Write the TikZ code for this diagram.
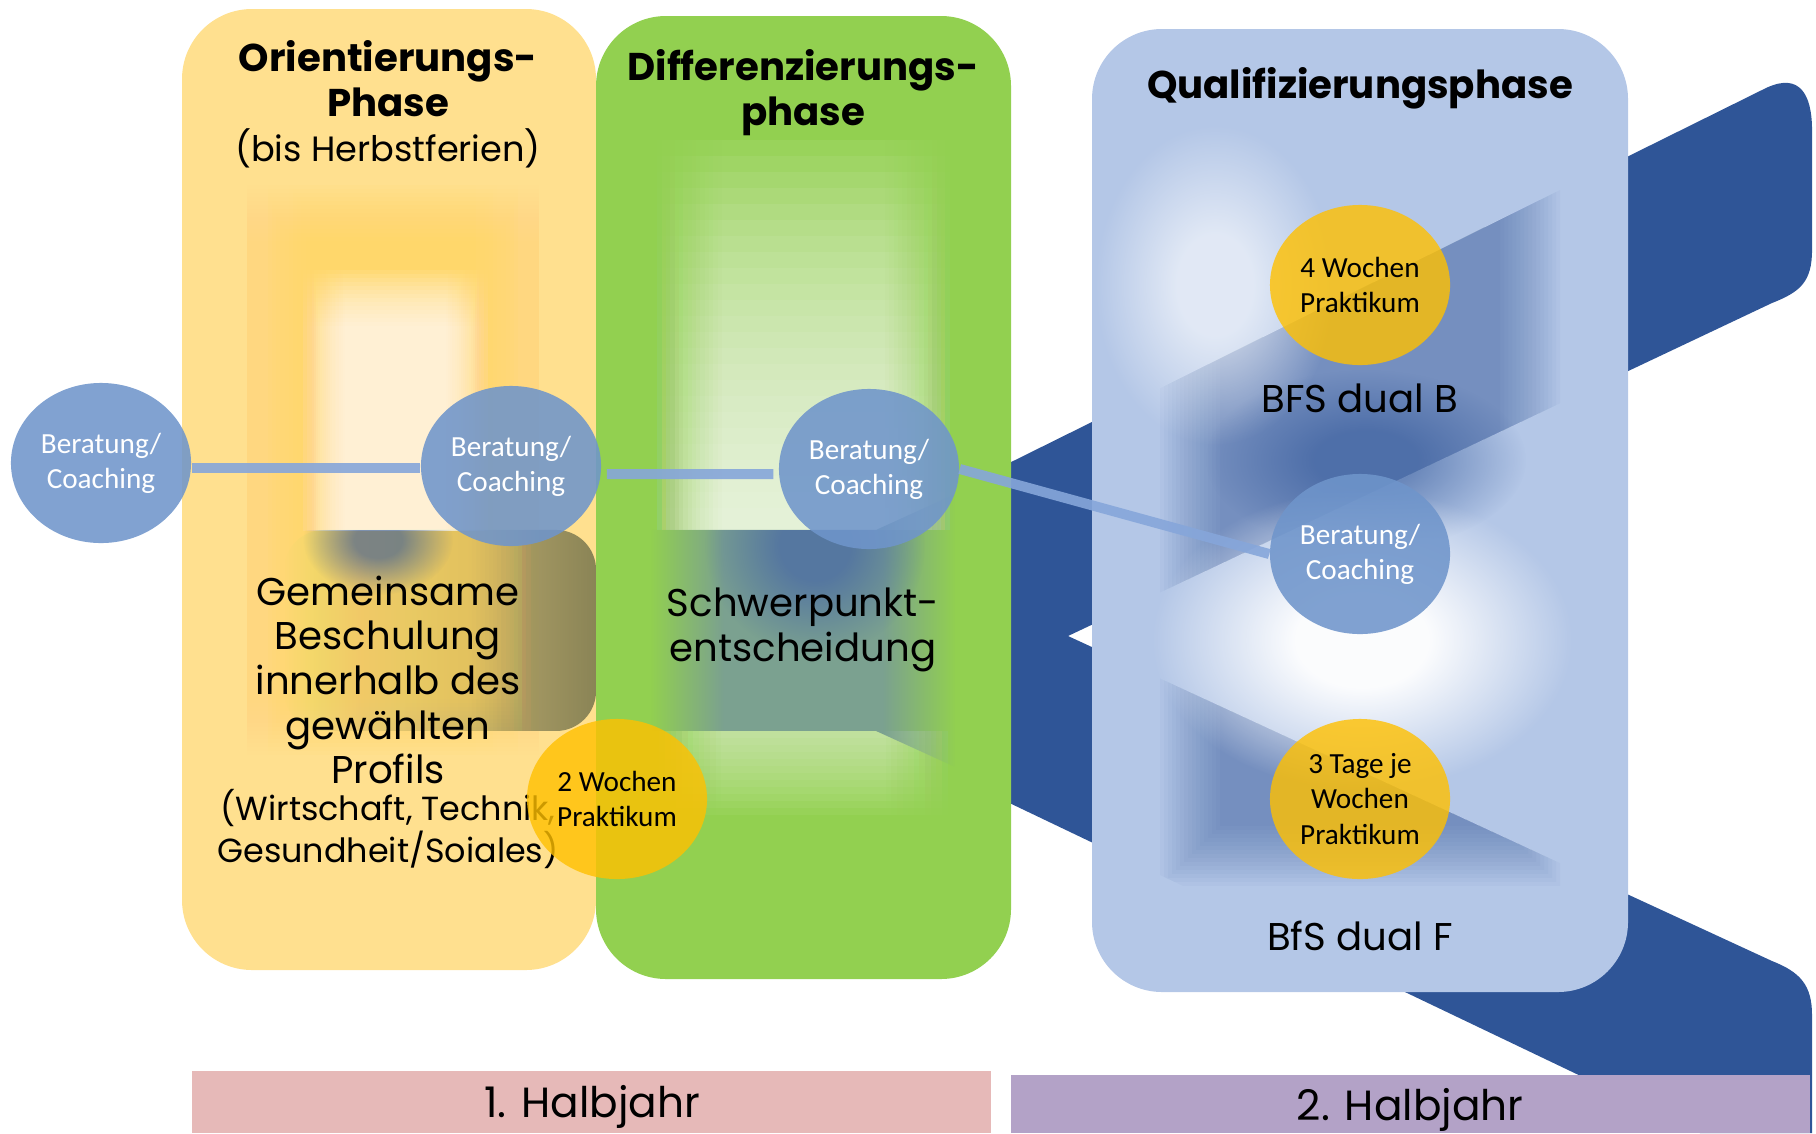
\documentclass[tikz,border=0pt]{standalone}
\usepackage{fontspec}
\setmainfont{Poppins}
\newfontfamily\calfont{Carlito}
\usetikzlibrary{shapes.geometric,fadings}

\definecolor{yelpanel}{HTML}{FFE08F}
\definecolor{yelglow}{HTML}{FFD75E}
\definecolor{grnpanel}{HTML}{92D050}
\definecolor{bluepanel}{HTML}{B4C7E7}
\definecolor{navy}{HTML}{2F5597}
\definecolor{coachblue}{HTML}{6F95CB}
\definecolor{praxyel}{HTML}{FFC000}
\definecolor{olive}{HTML}{8A8456}
\definecolor{bandtop}{HTML}{4F70A3}
\definecolor{bandbot}{HTML}{7BA190}
\definecolor{linkblue}{HTML}{86A6DA}
\definecolor{barpink}{HTML}{E6B9B8}
\definecolor{barlila}{HTML}{B3A2C7}

\tikzfading[name=toright, left color=transparent!100, right color=transparent!0]
\pgfdeclarehorizontalshading{plateaushading}{100bp}{color(0bp)=(black); color(25bp)=(black); color(37bp)=(white); color(63bp)=(white); color(75bp)=(black); color(100bp)=(black)}
\pgfdeclarefading{plateau}{\pgfuseshading{plateaushading}}
\pgfdeclareradialshading{glowshading}{\pgfpoint{0bp}{0bp}}{color(0bp)=(white); color(8bp)=(white); color(25bp)=(black); color(50bp)=(black)}
\pgfdeclarefading{glow}{\pgfuseshading{glowshading}}

\tikzset{phase/.style={rounded corners=0.7cm},
coach/.style={ellipse,fill=coachblue,fill opacity=0.88,text opacity=1,minimum width=1.8cm,minimum height=1.6cm,inner sep=0pt,text=white,align=center,font=\calfont\fontsize{8.3}{10}\selectfont,execute at begin node=\rule{0pt}{8.6pt}},
praxis/.style={coach,fill=praxyel,fill opacity=0.8,text=black},
link/.style={draw=linkblue,opacity=0.9,line width=0.1cm},
head/.style={align=center,font=\bfseries\fontsize{11}{12.8}\selectfont},
hand/.style={align=center,font=\fontsize{11}{12.7}\selectfont},
small/.style={align=center,font=\fontsize{9.5}{10.2}\selectfont},
chevron/.style={insert path={(660,636) -- (1766,88) .. controls (1800,72) and (1812,95) .. (1812,130)
  -- (1812,250) .. controls (1812,282) and (1800,292) .. (1772,303) -- (1068,636)
  -- (1772,961) .. controls (1800,972) and (1812,985) .. (1812,1015) -- (1812,1133) -- (1700,1133) -- cycle}}}

% soft edged box: style, x1, y1, x2, y2
\newcommand\softbox[5]{\foreach \k in {0,...,14}{\fill[#1,path fading=plateau] (#2,{#3+\k*4}) rectangle (#4,{#5-\k*4});}}

\begin{document}
\begin{tikzpicture}[x=0.01cm,y=-0.01cm]
\useasboundingbox (0,0) rectangle (1816,1133);

% the big arrow behind everything
\fill[navy,chevron];

% Orientierungsphase
\fill[yelpanel,phase] (182,9) rectangle (596,970);
\fill[olive,path fading=toright,rounded corners=0.4cm] (284,530) rectangle (596,731);
\softbox{yelglow,opacity=0.065}{245}{185}{540}{755}
\begin{scope}
\clip (182,0) rectangle (596,530);
\softbox{white,opacity=0.085}{300}{270}{490}{620}
\end{scope}
\begin{scope}
\clip (182,530) rectangle (596,731);
\fill[navy,opacity=0.6,path fading=glow] (378,540) ellipse (75 and 55);
\end{scope}

% Differenzierungsphase
\fill[grnpanel,phase] (596,16) rectangle (1011,979);
\foreach \k in {0,...,23}
  \fill[white,opacity=0.065,path fading=plateau] (651,{140+\k*16}) rectangle (955,530);
\foreach \k in {0,...,11}
  \fill[white,opacity=0.05,path fading=plateau] (651,731) rectangle (955,{815-\k*7});
\fill[bandbot,path fading=plateau] (651,530) -- (876,530) -- (955,494) -- (955,767) -- (876,731) -- (651,731) -- cycle;
\begin{scope}
\clip (651,530) rectangle (955,731);
\fill[bandtop,opacity=0.85,path fading=glow] (815,545) ellipse (110 and 110);
\end{scope}

% Qualifizierungsphase
\fill[bluepanel,phase] (1092,29) rectangle (1628,992);
\foreach \k in {0,...,15}{
  \begin{scope}
  \clip ({1160+\k*4},{150+\k*4}) rectangle ({1560-\k*4},{885-\k*4});
  \fill[navy,opacity=0.034,chevron];
  \end{scope}}
\fill[white,opacity=0.6,path fading=glow] (1215,285) ellipse (120 and 160);
\fill[navy,opacity=0.55,path fading=glow] (1366,460) ellipse (160 and 90);
\fill[white,opacity=0.95,path fading=glow] (1362,640) ellipse (210 and 150);

% texts in the phases
\node[head] (orient) at (388,104) {Orientierungs-\\Phase\\{\mdseries\fontsize{10}{12}\selectfont(bis Herbstferien)}};
\node[head] (diff) at (803,93) {Differenzierungs-\\phase};
\node[head] (quali) at (1360,88) {Qualifizierungsphase};
\node[hand] (beschulung) at (388,680) {Gemeinsame\\Beschulung\\innerhalb des\\gewählten\\Profils};
\node[small] (profile) at (388,829) {(Wirtschaft, Technik,\\Gesundheit/Soiales)};
\node[hand] (schwerpunkt) at (803,630) {Schwerpunkt-\\entscheidung};
\node[hand] (dualb) at (1360,398) {BFS dual B};
\node[hand] (dualf) at (1360,936) {BfS dual F};

% Beratung and Praktika
\node[coach] (coach1) at (101,463) {Beratung/\\Coaching};
\node[coach] (coach2) at (511,466) {Beratung/\\Coaching};
\node[coach] (coach3) at (869,469) {Beratung/\\Coaching};
\node[coach] (coach4) at (1360,554) {Beratung/\\Coaching};
\draw[link] ([yshift=-0.02cm]coach1.east |- coach2) -- ([yshift=-0.02cm]coach2.west);
\draw[link] ([xshift=0.05cm,yshift=-0.08cm]coach2.east) -- ([xshift=-0.05cm,yshift=-0.05cm]coach3.west);
\draw[link] (coach3.east) -- (coach4.west);
\node[praxis] (praxis1) at (1360,285) {4 Wochen\\Praktikum};
\node[praxis] (praxis2) at (617,799) {2 Wochen\\Praktikum};
\node[praxis] (praxis3) at (1360,799) {3 Tage je\\Wochen\\Praktikum};

% Halbjahre
\fill[barpink] (192,1071) rectangle (991,1133);
\fill[barlila] (1011,1075) rectangle (1810,1133);
\node[hand,font=\fontsize{12}{14}\selectfont] (hj1) at (592,1107) {1. Halbjahr};
\node[hand,font=\fontsize{12}{14}\selectfont] (hj2) at (1410,1110) {2. Halbjahr};
\end{tikzpicture}
\end{document}
